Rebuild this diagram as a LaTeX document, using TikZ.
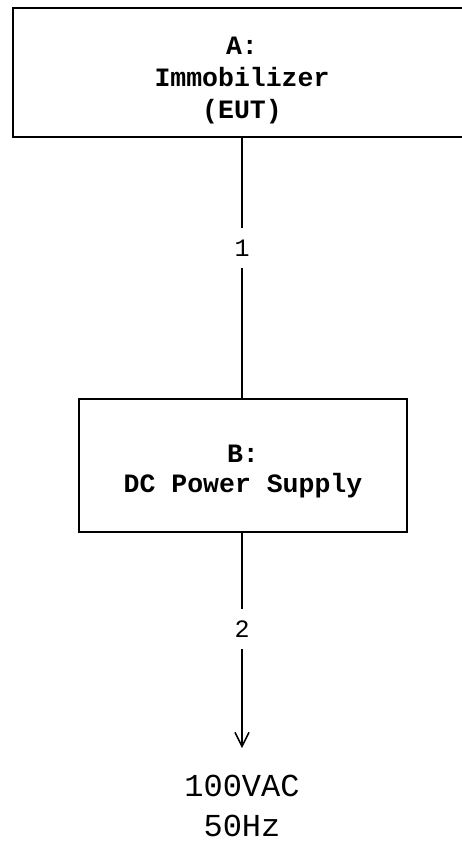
\documentclass[tikz,border=0pt]{standalone}
\usepackage{fontspec}
\setmonofont{Liberation Mono}
\usetikzlibrary{arrows.meta}
\begin{document}
\begin{tikzpicture}[x=1pt,y=-1pt,
  box/.style={draw,line width=1.5pt,inner sep=0pt},
  boxtext/.style={font=\ttfamily\bfseries\fontsize{26.5}{32}\selectfont,align=center,inner sep=0pt},
  conn/.style={line width=1.5pt},
  lbl/.style={font=\ttfamily\fontsize{25}{30}\selectfont,fill=white,inner xsep=4pt,inner ysep=12pt},
  src/.style={font=\ttfamily\fontsize{32}{40}\selectfont,align=center,inner sep=0pt}]
\useasboundingbox (0,0) rectangle (462,841);
\node[box,minimum width=458pt,minimum height=129pt] (A) at (242,72.5) {};
\node[boxtext] (At) at (242,81) {A:\\Immobilizer\\(EUT)};
\node[box,minimum width=328pt,minimum height=133pt] (B) at (243,465.5) {};
\node[boxtext,font=\ttfamily\bfseries\fontsize{26.5}{30}\selectfont] (Bt) at (243,472) {B:\\DC Power Supply};
\coordinate (E) at (242,748);
\draw[conn] (A.south -| 242,0) -- (B.north -| 242,0);
\draw[conn,-{Straight Barb[length=14pt,width=14pt]}] (B.south -| 242,0) -- (E);
\node[lbl] (L1) at (242,248) {1};
\node[lbl] (L2) at (242,629) {2};
\node[src] (V) at (242,806) {100VAC\\50Hz};
\end{tikzpicture}
\end{document}
